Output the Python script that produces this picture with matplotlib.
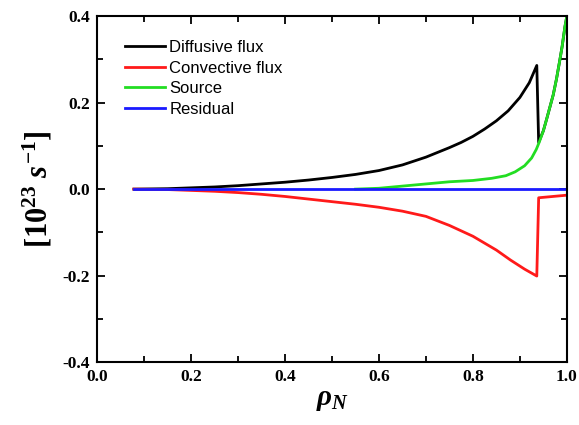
import matplotlib
matplotlib.use("Agg")
import matplotlib.pyplot as plt
from matplotlib.ticker import MultipleLocator

plt.rcParams['axes.unicode_minus'] = False
plt.rcParams['mathtext.fontset'] = 'custom'
plt.rcParams['mathtext.rm'] = 'Liberation Serif:bold'
plt.rcParams['mathtext.it'] = 'Liberation Serif:italic:bold'
plt.rcParams['mathtext.bf'] = 'Liberation Serif:bold'

# Data
diff_x = [0.078, 0.15, 0.2, 0.25, 0.3, 0.35, 0.4, 0.45, 0.5, 0.55, 0.6, 0.65, 0.7, 0.75,
          0.775, 0.8, 0.825, 0.85, 0.875, 0.9, 0.92, 0.936,
          0.940, 0.95, 0.957, 0.964, 0.971, 0.978, 0.985, 0.99, 0.996, 1.0]
diff_y = [0.0, 0.001, 0.003, 0.005, 0.008, 0.012, 0.016, 0.021, 0.027, 0.034, 0.043, 0.056, 0.074, 0.096,
          0.108, 0.122, 0.139, 0.158, 0.181, 0.212, 0.246, 0.286,
          0.108, 0.135, 0.162, 0.19, 0.218, 0.255, 0.298, 0.33, 0.376, 0.40]

conv_x = [0.078, 0.15, 0.2, 0.25, 0.3, 0.35, 0.4, 0.45, 0.5, 0.55, 0.6, 0.65, 0.7, 0.75,
          0.8, 0.85, 0.88, 0.91, 0.936, 0.940, 1.0]
conv_y = [0.0, -0.001, -0.003, -0.005, -0.008, -0.012, -0.017, -0.023, -0.029, -0.035, -0.042, -0.051,
          -0.063, -0.084, -0.109, -0.141, -0.164, -0.185, -0.201, -0.020, -0.014]

src_x = [0.55, 0.6, 0.65, 0.7, 0.75, 0.8, 0.84, 0.87, 0.89, 0.91, 0.925, 0.935, 0.941, 0.95,
         0.957, 0.964, 0.971, 0.978, 0.985, 0.99, 0.996, 1.0]
src_y = [0.0, 0.002, 0.007, 0.012, 0.017, 0.020, 0.025, 0.031, 0.040, 0.054, 0.072, 0.092, 0.108, 0.135,
         0.162, 0.19, 0.218, 0.255, 0.298, 0.33, 0.376, 0.40]

res_x = [0.078, 1.0]
res_y = [0.0, 0.0]

fig = plt.figure(figsize=(5.79, 4.25), dpi=100)
ax = fig.add_axes([0.168, 0.148, 0.811, 0.814])

ax.plot(diff_x, diff_y, color='black', lw=2, label='Diffusive flux')
ax.plot(conv_x, conv_y, color='#ff1a1a', lw=2, label='Convective flux')
ax.plot(src_x, src_y, color='#22dd22', lw=2, label='Source')
ax.plot(res_x, res_y, color='#1a1aff', lw=2, label='Residual')

ax.set_xlim(0, 1.0)
ax.set_ylim(-0.4, 0.4)
ax.xaxis.set_major_locator(MultipleLocator(0.2))
ax.xaxis.set_minor_locator(MultipleLocator(0.1))
ax.yaxis.set_major_locator(MultipleLocator(0.2))
ax.yaxis.set_minor_locator(MultipleLocator(0.1))
ax.tick_params(which='both', direction='in', top=True, right=True, width=1.3)
ax.tick_params(which='major', length=6, pad=5)
ax.tick_params(which='minor', length=4)
for s in ax.spines.values():
    s.set_linewidth(1.5)

for lab in ax.get_xticklabels() + ax.get_yticklabels():
    lab.set_fontfamily('Liberation Serif')
    lab.set_fontweight('bold')
    lab.set_fontsize(12.5)

ax.set_xlabel(r'$\rho_N$', fontsize=21, labelpad=0)
ax.set_ylabel(r'$[10^{23}\ s^{-1}]$', fontsize=22, labelpad=6)

leg = ax.legend(loc='upper left', bbox_to_anchor=(0.045, 0.95), frameon=False,
                prop={'family': 'Liberation Sans', 'size': 12}, handlelength=2.4,
                handletextpad=0.25, labelspacing=0.33, borderaxespad=0)

fig.savefig('out.png', dpi=100)
